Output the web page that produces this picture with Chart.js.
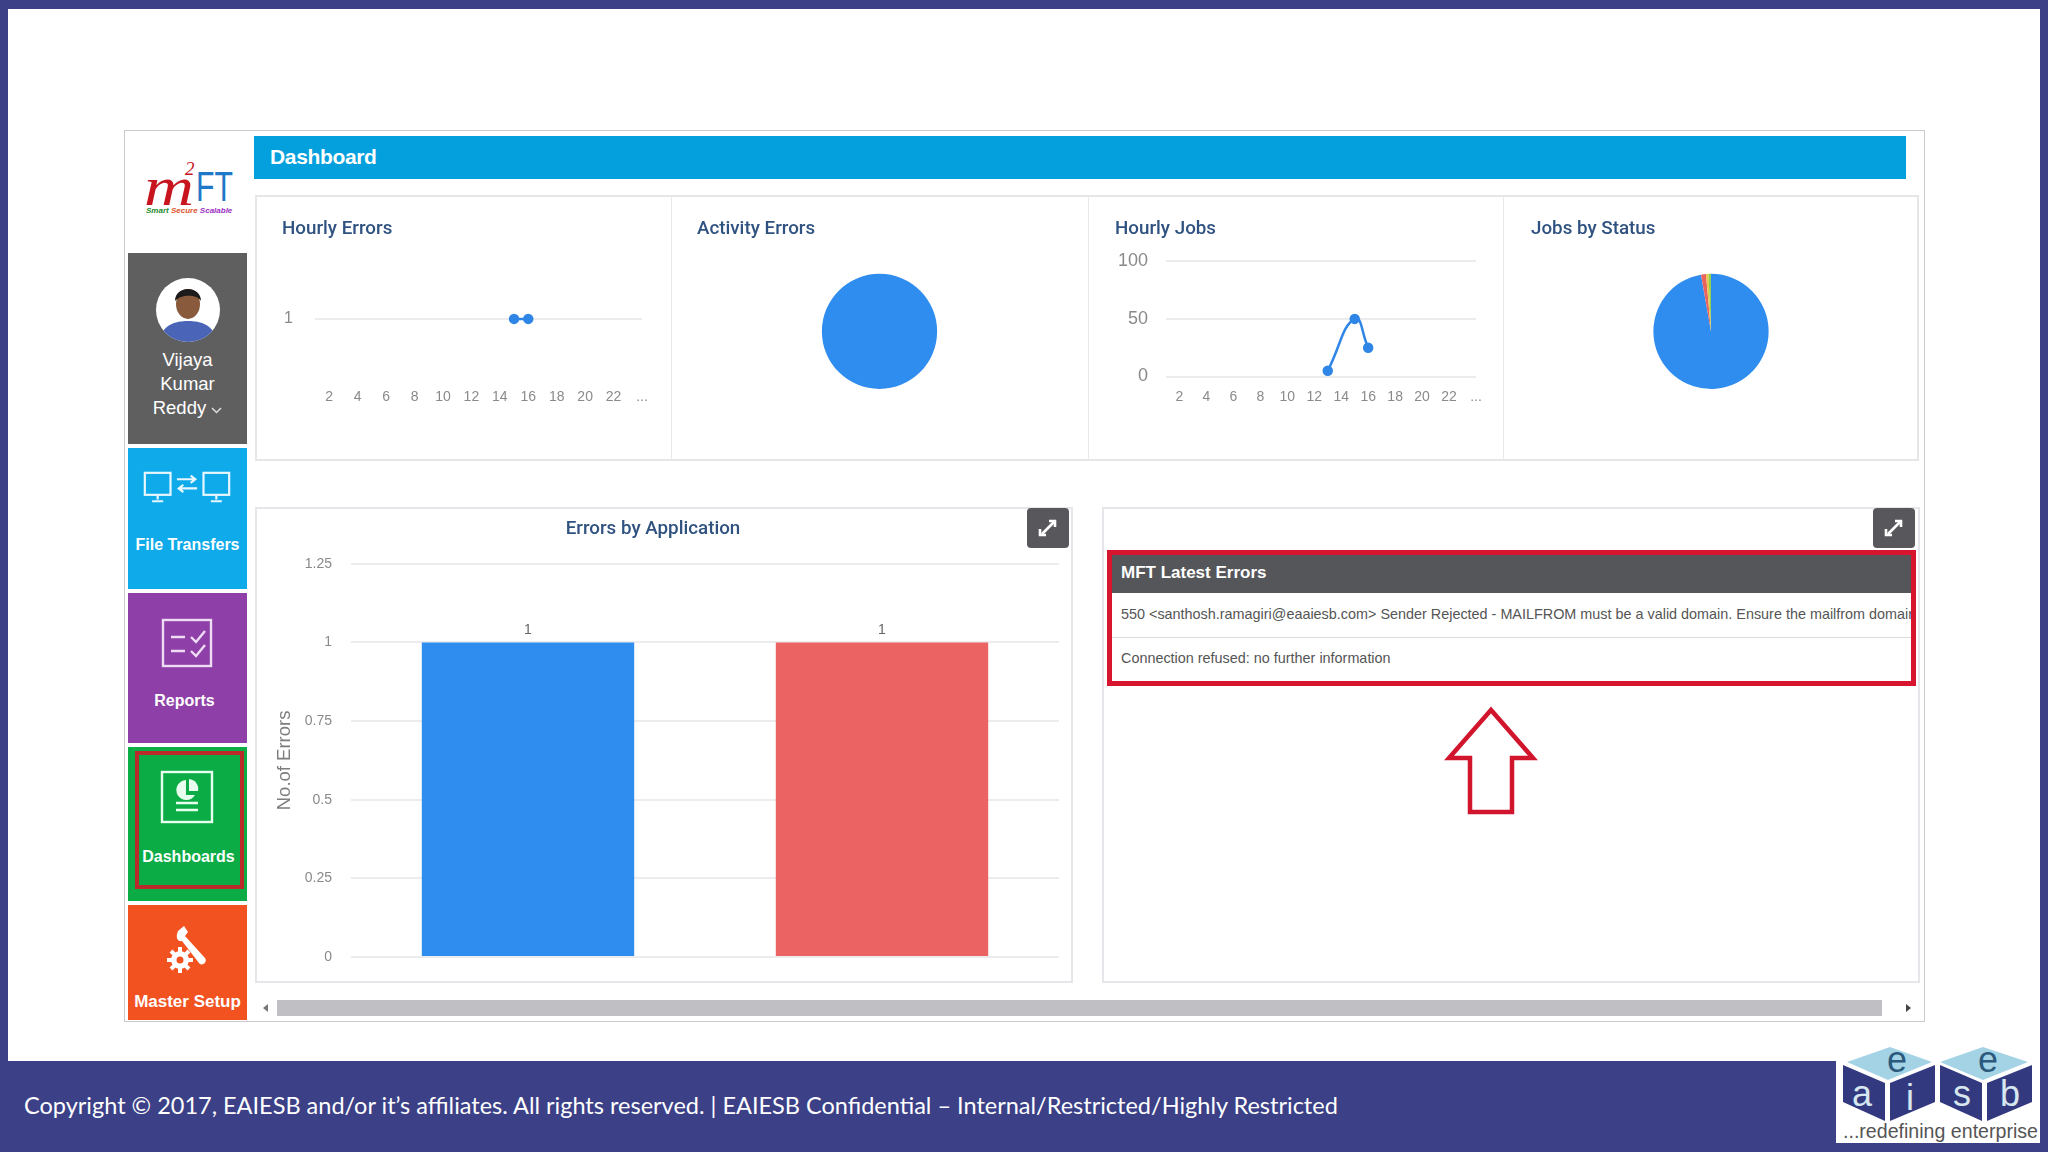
<!DOCTYPE html>
<html><head><meta charset="utf-8">
<script src="https://cdn.jsdelivr.net/npm/chart.js@4"></script>
<style>
html,body{margin:0;padding:0;background:#fff}
#s{position:relative;width:2048px;height:1152px;overflow:hidden;background:#fff;font-family:"Liberation Sans",sans-serif}
.a{position:absolute}
.n{background:#3b4087}
canvas.a{display:block}
.tile{position:absolute;left:128px;width:119px;color:#fff}
.lab{position:absolute;left:0;width:100%;text-align:center;font-weight:700;font-size:16px;white-space:nowrap}
.btn{position:absolute;width:42px;height:40px;border-radius:4px;background:#58585c}
</style></head><body>
<div id="s">
<div class="a n" style="left:0;top:0;width:2048px;height:9px"></div>
<div class="a n" style="left:0;top:0;width:8px;height:1152px"></div>
<div class="a n" style="left:2040px;top:0;width:8px;height:1152px"></div>
<div class="a n" style="left:0;top:1061px;width:2048px;height:91px"></div>
<div class="a" style="left:24px;top:1091px;color:#fff;font:23.5px Lato,sans-serif;white-space:nowrap" id="foot">Copyright © 2017, EAIESB and/or it’s affiliates. All rights reserved. | EAIESB Confidential – Internal/Restricted/Highly Restricted</div>

<!-- frame -->
<div class="a" style="left:124px;top:130px;width:1799px;height:890px;border:1px solid #c9c9cf;box-sizing:content-box"></div>
<div class="a" style="left:254px;top:136px;width:1652px;height:43px;background:#03a0dd"></div>
<div class="a" style="left:270px;top:145px;color:#fff;font:700 21px 'Liberation Sans';letter-spacing:-.35px">Dashboard</div>

<!-- logo -->
<div class="a" style="left:144px;top:156px;font:italic 400 54px 'Liberation Serif';color:#c8141e;transform:scaleX(1.28);transform-origin:left top">m</div>
<div class="a" style="left:185px;top:158px;font:italic 400 19px 'Liberation Serif';color:#c8141e">2</div>
<div class="a" style="left:196px;top:163px;font:400 42px 'Liberation Sans';color:#1f78c8;transform:scaleX(.72);transform-origin:left top">FT</div>
<div class="a" style="left:146px;top:206px;font:italic 700 8px 'Liberation Sans';white-space:nowrap"><span style="color:#1c8a2c">Smart</span> <span style="color:#e0522a">Secure</span> <span style="color:#9a2fc0">Scalable</span></div>

<!-- user tile -->
<div class="tile" style="top:253px;height:191px;background:#5f5f60;font-size:18px">
 <svg class="a" style="left:27px;top:24px" width="66" height="66" viewBox="0 0 66 66">
  <defs><clipPath id="c"><circle cx="33" cy="33" r="32"/></clipPath></defs>
  <circle cx="33" cy="33" r="32" fill="#fff"/>
  <g clip-path="url(#c)"><path d="M4 66 C6 48 20 44 33 44 C46 44 60 48 62 66Z" fill="#4a64b8"/><ellipse cx="33" cy="27" rx="12" ry="15" fill="#8a5a3c"/><path d="M20 24 C20 8 46 8 46 24 C42 17 26 17 20 24Z" fill="#1d1a1c"/></g>
 </svg>
 <div class="lab" style="top:96px;font-weight:400;font-size:18.5px">Vijaya</div>
 <div class="lab" style="top:120px;font-weight:400;font-size:18.5px">Kumar</div>
 <div class="lab" style="top:144px;font-weight:400;font-size:18.5px">Reddy <svg width="11" height="7" viewBox="0 0 11 7"><path d="M1 1l4.5 4.5L10 1" fill="none" stroke="#ddd" stroke-width="1.5"/></svg></div>
</div>
<div class="tile" style="top:448px;height:141px;background:#0eaaea">
 <svg class="a" style="left:15px;top:23px" width="88" height="33" viewBox="0 0 96 36" fill="none" stroke="#e8f7ff" stroke-width="2.4">
  <rect x="2" y="2" width="28" height="24"/><path d="M10 33h12M16 26v5"/><rect x="66" y="2" width="28" height="24"/><path d="M74 33h12M80 26v5"/>
  <path d="M37 9h20M52 5l5 4-5 4M59 19H39M44 15l-5 4 5 4"/></svg>
 <div class="lab" style="top:88px">File Transfers</div>
</div>
<div class="tile" style="top:593px;height:150px;background:#8e3fa8">
 <svg class="a" style="left:33px;top:25px" width="52" height="52" viewBox="0 0 52 52" fill="none" stroke="#eedcf4" stroke-width="2.4">
  <rect x="2" y="2" width="48" height="46"/><path d="M10 19h14M10 33h14M30 19l5 5 9-11M30 33l5 5 9-11"/></svg>
 <div class="lab" style="top:99px;left:-3px">Reports</div>
</div>
<div class="tile" style="top:747px;height:154px;background:#0bac45">
 <div class="a" style="left:7px;top:4px;width:109px;height:138px;border:4px solid #b92a2c;box-sizing:border-box"></div>
 <svg class="a" style="left:32px;top:23px" width="54" height="54" viewBox="0 0 54 54" fill="none" stroke="#e8fff0" stroke-width="2.4">
  <rect x="2" y="2" width="50" height="50"/><path d="M26 10a10 10 0 1 0 9 15h-9z" fill="#e8fff0" stroke="none"/><path d="M29 9a10 10 0 0 1 9 12h-9z" fill="#e8fff0" stroke="none"/><path d="M16 33h22M16 40h22"/></svg>
 <div class="lab" style="top:101px;left:1px">Dashboards</div>
</div>
<div class="tile" style="top:905px;height:115px;background:#f2521f">
 <svg class="a" style="left:38px;top:20px" width="46" height="48" viewBox="0 0 46 48" fill="#fff">
  <path d="M12 6l6-5 4 6-3 4 20 22c3 4-3 9-6 5L16 16c-4 1-7-3-4-10z"/><circle cx="14" cy="35" r="9"/><circle cx="14" cy="35" r="3.5" fill="#f2521f"/>
  <g stroke="#fff" stroke-width="4"><path d="M14 22v26M1 35h26M5 26l18 18M23 26L5 44"/></g><circle cx="14" cy="35" r="3.5" fill="#f2521f"/></svg>
 <div class="lab" style="top:87px;font-size:17px">Master Setup</div>
</div>

<!-- cards -->
<div class="a" style="left:255px;top:195px;width:1664px;height:266px;box-sizing:border-box;border:2px solid #e6e6e8"></div>
<div class="a" style="left:671px;top:197px;width:1px;height:262px;background:#e9e9eb"></div>
<div class="a" style="left:1088px;top:197px;width:1px;height:262px;background:#e9e9eb"></div>
<div class="a" style="left:1503px;top:197px;width:1px;height:262px;background:#e9e9eb"></div>
<div class="a" style="left:255px;top:507px;width:818px;height:476px;box-sizing:border-box;border:2px solid #e6e6ea"></div>
<div class="a" style="left:1102px;top:507px;width:818px;height:476px;box-sizing:border-box;border:2px solid #e6e6ea"></div>

<canvas class="a" id="c1" style="left:255px;top:196px"></canvas>
<canvas class="a" id="c2" style="left:671px;top:196px"></canvas>
<canvas class="a" id="c3" style="left:1088px;top:196px"></canvas>
<canvas class="a" id="c4" style="left:1503px;top:196px"></canvas>
<canvas class="a" id="c5" style="left:234px;top:507px"></canvas>

<!-- expand buttons -->
<div class="btn" style="left:1027px;top:508px"><svg width="42" height="40" viewBox="0 0 42 40" fill="none" stroke="#fff" stroke-width="2.6"><path d="M15 26l12-12"/><path d="M22 13h6v6M13 21v6h6" /></svg></div>
<div class="btn" style="left:1873px;top:508px"><svg width="42" height="40" viewBox="0 0 42 40" fill="none" stroke="#fff" stroke-width="2.6"><path d="M15 26l12-12"/><path d="M22 13h6v6M13 21v6h6" /></svg></div>

<!-- latest errors -->
<div class="a" style="left:1107px;top:550px;width:809px;height:136px;box-sizing:border-box;border:5px solid #d8152f;overflow:hidden;background:#fff">
 <div class="a" style="left:0;top:0;width:100%;height:38px;background:#55565a"></div>
 <div class="a" style="left:9px;top:8px;color:#fff;font:700 17px 'Liberation Sans'">MFT Latest Errors</div>
 <div class="a" style="left:9px;top:51px;color:#555;font:14.4px 'Liberation Sans';white-space:nowrap">550 &lt;santhosh.ramagiri@eaaiesb.com&gt; Sender Rejected - MAILFROM must be a valid domain. Ensure the mailfrom domain</div>
 <div class="a" style="left:0;top:82px;width:100%;height:1px;background:#dcdcdc"></div>
 <div class="a" style="left:9px;top:95px;color:#555;font:14.4px 'Liberation Sans';white-space:nowrap">Connection refused: no further information</div>
</div>
<svg class="a" style="left:1441px;top:705px" width="100" height="112" viewBox="0 0 100 112"><path d="M50 5L8 53h21v54h42V53h21z" fill="#fff" stroke="#d0152c" stroke-width="4.5" stroke-linejoin="miter"/></svg>

<!-- scrollbar -->
<div class="a" style="left:277px;top:1000px;width:1605px;height:16px;background:#c0c0c4"></div>
<svg class="a" style="left:260px;top:1002px" width="12" height="12"><path d="M8 2L3 6l5 4z" fill="#777"/></svg>
<svg class="a" style="left:1903px;top:1002px" width="12" height="12"><path d="M3 2l5 4-5 4z" fill="#444"/></svg>

<!-- corner logo -->
<svg class="a" style="left:1836px;top:1038px" width="204" height="105" viewBox="0 0 204 105">
 <rect width="204" height="105" fill="#fff"/>
 <g fill="#a5d3e6"><path d="M11 24L54 9 96 24 52 42z"/><path d="M104 24L147 9 192 24 147 42z"/></g>
 <g fill="#33397f"><path d="M7 27L49 45V83L7 64z"/><path d="M54 45L99 27V64L54 83z"/><path d="M104 27L146 45V83L104 64z"/><path d="M151 45L196 27V64L151 83z"/></g>
 <g font-family="Liberation Sans" font-size="36" text-anchor="middle">
  <text x="61" y="34" fill="#2b5a7e">e</text><text x="152" y="34" fill="#2b5a7e">e</text>
  <text x="26" y="68" fill="#d7e7f0">a</text><text x="74" y="72" fill="#d7e7f0">i</text><text x="126" y="68" fill="#d7e7f0">s</text><text x="174" y="68" fill="#d7e7f0">b</text>
 </g>
 <text x="7" y="100" font-family="Liberation Sans" font-size="19.6" fill="#555">...redefining enterprise</text>
</svg>
</div>
<script>
// ---- data ----
const hourLabels = ["1","2","3","4","5","6","7","8","9","10","11","12","13","14","15","16","17","18","19","20","21","22","23","24"];
const hourlyErrors = [null,null,null,null,null,null,null,null,null,null,null,null,null,null,1,1,null,null,null,null,null,null,null,null];
const hourlyJobs = [null,null,null,null,null,null,null,null,null,null,null,null,5,null,50,25,null,null,null,null,null,null,null,null];
const activityLabels = ["Errors"];
const activityValues = [1];
const statusLabels = ["Completed","Failed","Running","Waiting"];
const statusValues = [140,2,1,1];
const statusColors = ["#308df0","#e9635f","#e6c84a","#8fd14f"];
const appLabels = ["Application 1","Application 2"];
const appValues = [1,1];
const appColors = ["#308df0","#eb6363"];
const titles = ["Hourly Errors","Activity Errors","Hourly Jobs","Jobs by Status","Errors by Application"];

// ---- chart setup ----
const BLUE = "#2f86e6", GRID = "#ececee", TICK = "#8a8a8a", TITLE = "#2f5280";
Chart.defaults.font.family = "'Liberation Sans',sans-serif";
Chart.defaults.animation = false;
Chart.defaults.responsive = false;
function size(id,w,h){const c=document.getElementById(id);c.width=w;c.height=h;c.style.width=w+"px";c.style.height=h+"px";return c;}
const titleOpt=(text,bottom,align)=>({display:true,text,align:align||"start",color:TITLE,font:{family:"Roboto",size:18.8,weight:"500"},padding:{top:0,bottom}});
const xHours=()=>({type:"category",offset:false,grid:{display:false,drawTicks:false},border:{display:false},
  afterFit(s){s.height=40;},
  ticks:{autoSkip:false,maxRotation:0,padding:12,color:TICK,font:{size:14},callback(v,i){const l=this.getLabelForValue(v);return l==="24"?"...":(+l%2===0?l:"");}}});
function lineChart(id,w,pad,yw,data,yopt,title,tension){
 return new Chart(size(id,w,264),{type:"line",data:{labels:hourLabels,datasets:[{data,borderColor:BLUE,backgroundColor:BLUE,pointBackgroundColor:BLUE,pointBorderColor:BLUE,pointRadius:4,borderWidth:2.5,spanGaps:true,tension,fill:false}]},
 options:{plugins:{legend:{display:false},tooltip:{enabled:false},title:titleOpt(title,20.7)},layout:{padding:{left:pad.l,right:pad.r,top:22,bottom:43.5}},
  scales:{x:xHours(),y:Object.assign({grid:{color:GRID,drawTicks:false,lineWidth:2},border:{display:false},afterFit(s){s.width=yw;}},yopt)}}});
}
lineChart("c1",416,{l:27,r:29},33,hourlyErrors,{min:0,max:2,afterBuildTicks(s){s.ticks=[{value:1}];},ticks:{padding:22,color:TICK,font:{size:16}}},titles[0],0);
lineChart("c3",415,{l:27,r:27},51,hourlyJobs,{min:0,max:100,ticks:{stepSize:50,padding:18,color:TICK,font:{size:18}}},titles[2],0.5);
function pie(id,w,labels,data,colors,title,pad){
 return new Chart(size(id,w,264),{type:"pie",data:{labels,datasets:[{data,backgroundColor:colors,borderWidth:0}]},
 options:{plugins:{legend:{display:false},tooltip:{enabled:false},title:titleOpt(title,33.2)},layout:{padding:{left:pad,right:pad,top:22,bottom:71}}}});
}
pie("c2",417,activityLabels,activityValues,["#308df0"],titles[1],26);
pie("c4",416,statusLabels,statusValues,statusColors,titles[3],28);

const valueLabels={id:"valueLabels",afterDatasetsDraw(ch){const m=ch.getDatasetMeta(0),c=ch.ctx;c.save();c.fillStyle="#666";c.font="14px 'Liberation Sans'";c.textAlign="center";c.textBaseline="bottom";
 m.data.forEach((b,i)=>c.fillText(String(ch.data.datasets[0].data[i]),b.x,b.y-5.6));c.restore();}};
new Chart(size("c5",838,475),{type:"bar",plugins:[valueLabels],data:{labels:appLabels,datasets:[{data:appValues,backgroundColor:appColors,barPercentage:0.6,categoryPercentage:1}]},
 options:{plugins:{legend:{display:false},tooltip:{enabled:false},title:titleOpt(titles[4],23.2,"center")},layout:{padding:{left:13,right:13,top:11,bottom:25}},
 scales:{x:{display:true,grid:{display:false,drawTicks:false},border:{display:false},ticks:{display:false},afterFit(s){s.height=0;}},
  y:{min:0,max:1.25,afterFit(s){s.width=104;s.paddingTop=0;s.paddingBottom=0;},grid:{color:GRID,drawTicks:false,lineWidth:2},border:{display:false},
  title:{display:true,text:"No.of Errors",color:"#7d7d7d",font:{size:18.5},padding:{top:27,bottom:0}},
  ticks:{stepSize:0.25,padding:19,color:TICK,font:{size:14},callback:v=>String(v)}}}}});
</script>
</body></html>
